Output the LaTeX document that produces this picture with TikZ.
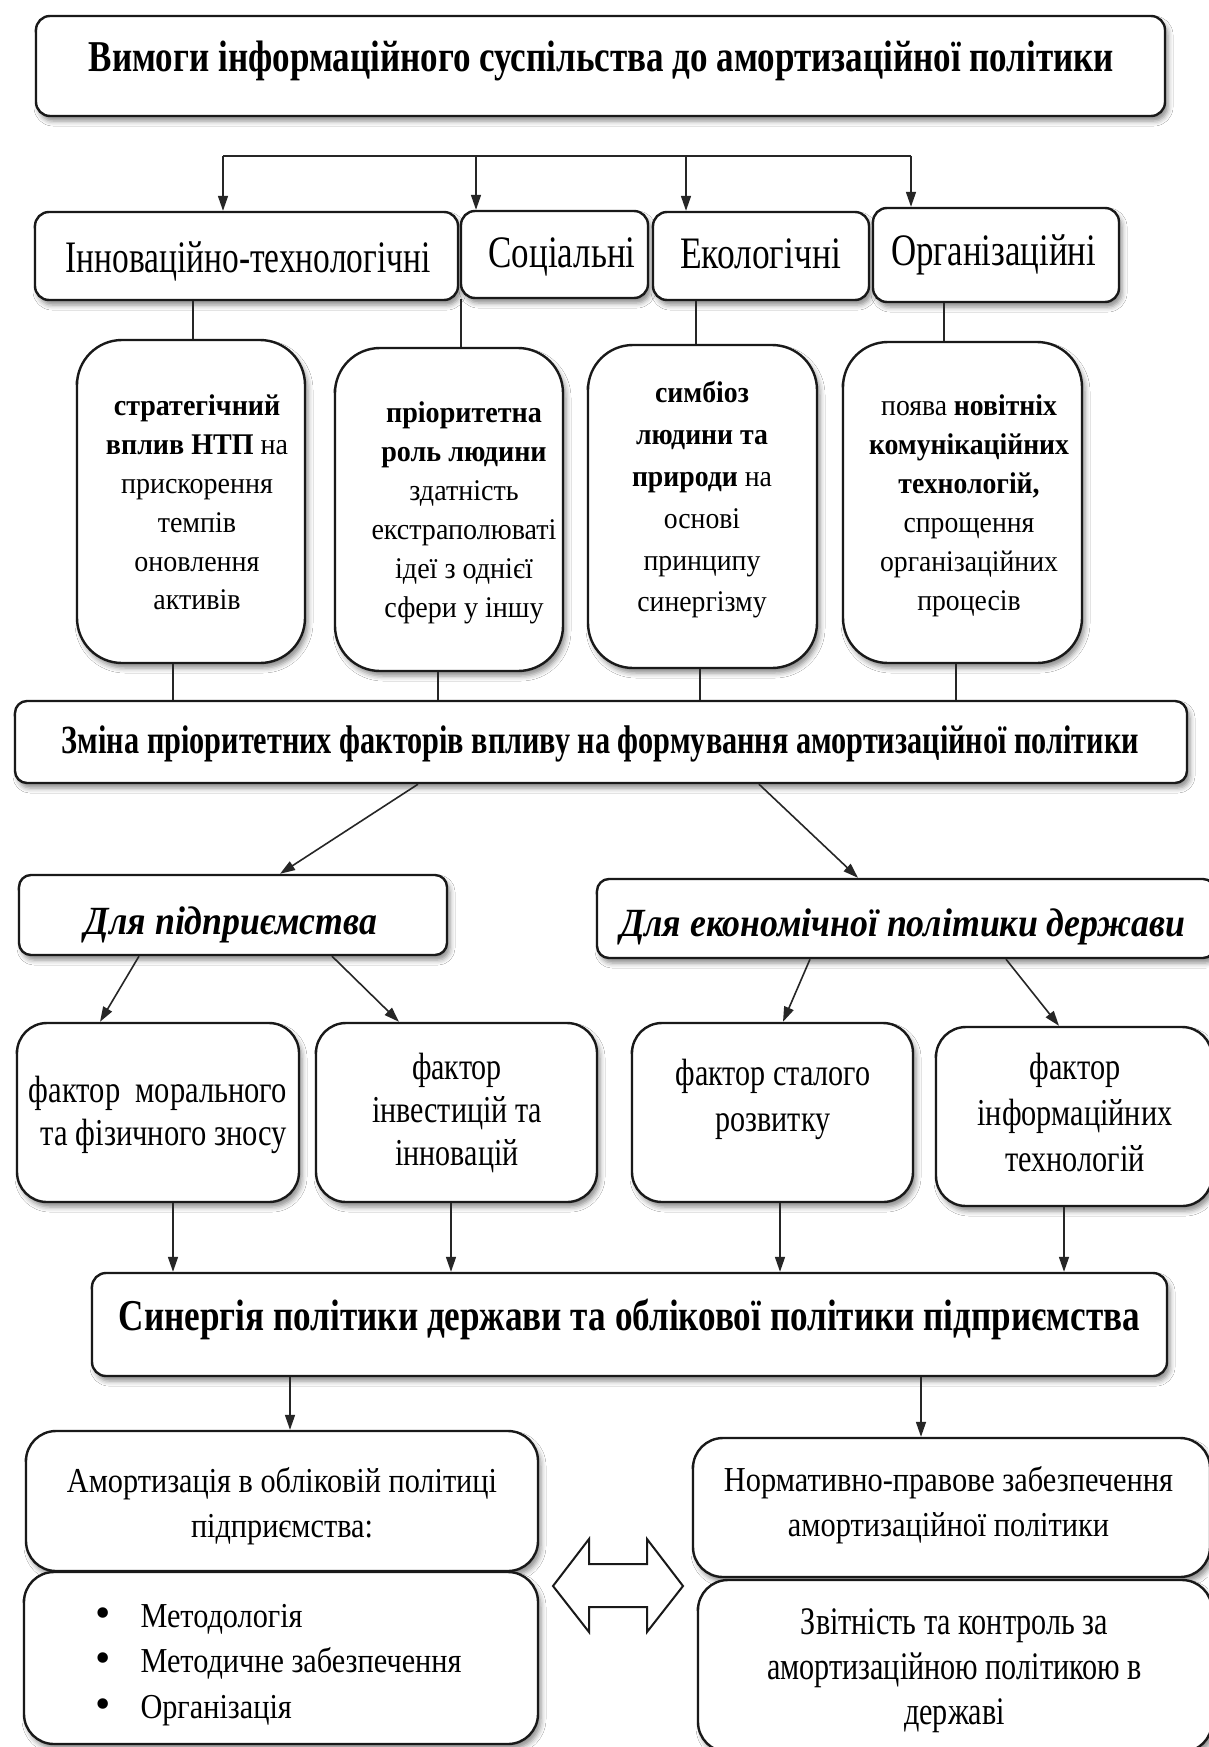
\documentclass[tikz,border=0pt]{standalone}
\usepackage{fontspec}
\setmainfont{Liberation Serif}
\usepackage{graphicx}
\usetikzlibrary{arrows.meta,shadows.blur,calc}

% text block: [column spec]{size}{baselineskip}{target width}{lines}
\newcommand\blk[5][c]{%
  {\fontsize{#2}{#3}\selectfont
   \resizebox{#4pt}{\height}{\begin{tabular}{@{}#1@{}}#5\end{tabular}}}}

\begin{document}
\begin{tikzpicture}[x=1pt,y=-1pt,
  box/.style={draw=black!90, line width=2.4pt, rounded corners=#1, fill=white,
    inner sep=0pt,
    blur shadow={shadow xshift=3pt, shadow yshift=-5pt,
                 shadow blur radius=5pt, shadow opacity=45}},
  box/.default=14pt,
  tx/.style={inner sep=0pt},
  ln/.style={draw=black!85, line width=1.6pt},
  arr/.style={ln, -{Triangle[length=15pt,width=10pt]}}]

\path[use as bounding box, fill=white] (0,0) rectangle (1208,1747);

% ---------- boxes ----------
\node[box, minimum width=1129pt, minimum height=100pt] (title) at (600.5,66) {};

\node[box, minimum width=423pt, minimum height=88pt] (cat1) at (246.5,256) {};
\node[box, minimum width=187pt, minimum height=87pt] (cat2) at (554.5,254.5) {};
\node[box, minimum width=216pt, minimum height=88pt] (cat3) at (761,256) {};
\node[box, minimum width=246pt, minimum height=94pt] (cat4) at (996,255) {};

\node[box=45pt, minimum width=228pt, minimum height=323pt] (tall1) at (191,501.5) {};
\node[box=45pt, minimum width=228pt, minimum height=323pt] (tall2) at (449,509.5) {};
\node[box=45pt, minimum width=229pt, minimum height=323pt] (tall3) at (702.5,506.5) {};
\node[box=45pt, minimum width=239pt, minimum height=321pt] (tall4) at (962.5,502.5) {};

\node[box=12pt, minimum width=1172pt, minimum height=82pt] (zmina) at (601,742) {};

\node[box=12pt, minimum width=428pt, minimum height=80pt] (dp) at (233,915) {};
\node[box=12pt, minimum width=618pt, minimum height=79pt] (de) at (906,918.5) {};

\node[box=30pt, minimum width=282pt, minimum height=179pt] (fA) at (158,1112.5) {};
\node[box=30pt, minimum width=281pt, minimum height=179pt] (fB) at (456.5,1112.5) {};
\node[box=30pt, minimum width=281pt, minimum height=179pt] (fC) at (772.5,1112.5) {};
\node[box=30pt, minimum width=276pt, minimum height=179pt] (fD) at (1074,1116.5) {};

\node[box, minimum width=1075pt, minimum height=103pt] (syn) at (629.5,1324.5) {};

\node[box=30pt, minimum width=512pt, minimum height=140pt] (am) at (282,1501) {};
\node[box=30pt, minimum width=514pt, minimum height=172pt] (bul) at (281,1658) {};
\node[box=30pt, minimum width=517pt, minimum height=139pt] (norm) at (951.5,1507.5) {};
\node[box=30pt, minimum width=514pt, minimum height=172pt] (zvit) at (955,1666) {};

% ---------- texts ----------
\node[tx] (title-t) at (601.5,62) {\bfseries\blk{44}{50}{1025}{Вимоги інформаційного суспільства до амортизаційної політики}};

\node[tx] (cat1-t) at (248,262) {\blk{45}{50}{365}{Інноваційно-технологічні}};
\node[tx] (cat2-t) at (562,257) {\blk{45}{50}{147}{Соціальні}};
\node[tx] (cat3-t) at (760.5,258) {\blk{45}{50}{161}{Екологічні}};
\node[tx] (cat4-t) at (993.5,255) {\blk{45}{50}{205}{Організаційні}};

\node[tx] (tall1-t) at (197,505.2) {\blk{30}{38.8}{182}{\textbf{стратегічний}\\ \textbf{вплив НТП} на\\ прискорення\\ темпів\\ оновлення\\ активів}};
\node[tx] (tall2-t) at (464,511.7) {\blk{30}{39}{185}{\textbf{пріоритетна}\\ \textbf{роль людини}\\ здатність\\ екстраполюваті\\ ідеї з однієї\\ сфери у іншу}};
\node[tx] (tall3-t) at (702,499.1) {\blk{30}{41.8}{140}{\textbf{симбіоз}\\ \textbf{людини та}\\ \textbf{природи} на\\ основі\\ принципу\\ синергізму}};
\node[tx] (tall4-t) at (969,504.7) {\blk{30}{39}{200}{поява \textbf{новітніх}\\ \textbf{комунікаційних}\\ \textbf{технологій,}\\ спрощення\\ організаційних\\ процесів}};

\node[tx] (zmina-t) at (600.5,743.8) {\bfseries\blk{40}{46}{1077}{Зміна пріоритетних факторів впливу на формування амортизаційної політики}};

\node[tx] (dp-t) at (231,924.8) {\bfseries\itshape\blk{40}{46}{292}{Для підприємства}};
\node[tx] (de-t) at (902.5,926.8) {\bfseries\itshape\blk{40}{46}{565}{Для економічної політики держави}};

\node[tx] (fA-t) at (158,1114.9) {\blk[r]{38}{43}{258}{фактор\ \ морального\\ та фізичного зносу}};
\node[tx] (fB-t) at (457,1113.4) {\blk{38}{43}{170}{фактор\\ інвестицій та\\ інновацій}};
\node[tx] (fC-t) at (773,1099.3) {\blk{38}{46}{195}{фактор сталого\\ розвитку}};
\node[tx] (fD-t) at (1075,1115.8) {\blk{38}{46}{195}{фактор\\ інформаційних\\ технологій}};

\node[tx] (syn-t) at (629.5,1320) {\bfseries\blk{44}{50}{1021}{Синергія політики держави та облікової політики підприємства}};

\node[tx] (am-t) at (282,1505.8) {\blk{35}{45}{430}{Амортизація в обліковій політиці\\ підприємства:}};
\node[tx, anchor=west] (bul-t) at (95,1663.6) {{\fontsize{35}{45.5}\selectfont
  \begin{tabular}{@{}c@{}}\scalebox{1.25}{\textbullet}\\ \scalebox{1.25}{\textbullet}\\ \scalebox{1.25}{\textbullet}\end{tabular}}%
  \hspace{30pt}%
  \blk[l]{35}{45.5}{321}{Методологія\\ Методичне забезпечення\\ Організація}};
\node[tx] (norm-t) at (948.5,1504.8) {\blk{35}{45}{449}{Нормативно-правове забезпечення\\ амортизаційної політики}};
\node[tx] (zvit-t) at (954.5,1670) {\blk{39}{45}{375}{Звітність та контроль за\\ амортизаційною політикою в\\ державі}};

% ---------- connectors ----------
\coordinate (h1) at (223,156);
\coordinate (h2) at (476,156);
\coordinate (h3) at (686,156);
\coordinate (h4) at (911,156);
\draw[ln] (h1) -- (h4);
\draw[arr] (h1) -- (h1 |- cat1.north);
\draw[arr] (h2) -- (h2 |- cat2.north);
\draw[arr] (h3) -- (h3 |- cat3.north);
\draw[arr] (h4) -- (h4 |- cat4.north);

\draw[ln, line width=1.1pt] (193,0 |- cat1.south) -- (193,0 |- tall1.north);
\draw[ln, line width=1.1pt] (461,0 |- cat2.south) -- (461,0 |- tall2.north);
\draw[ln, line width=1.1pt] (696,0 |- cat3.south) -- (696,0 |- tall3.north);
\draw[ln, line width=1.1pt] (944,0 |- cat4.south) -- (944,0 |- tall4.north);

\draw[ln, line width=1.1pt] (173,0 |- tall1.south) -- (173,0 |- zmina.north);
\draw[ln, line width=1.1pt] (438,0 |- tall2.south) -- (438,0 |- zmina.north);
\draw[ln, line width=1.1pt] (700,0 |- tall3.south) -- (700,0 |- zmina.north);
\draw[ln, line width=1.1pt] (956,0 |- tall4.south) -- (956,0 |- zmina.north);

\draw[arr] (418,0 |- zmina.south) -- (280,0 |- dp.north);
\draw[arr] (759,0 |- zmina.south) -- (858,0 |- de.north);

\draw[arr] (139,0 |- dp.south) -- (100,0 |- fA.north);
\draw[arr] (332,0 |- dp.south) -- (399,0 |- fB.north);
\draw[arr] (810,0 |- de.south) -- (783,0 |- fC.north);
\draw[arr] (1006,0 |- de.south) -- (1059,0 |- fD.north);

\draw[arr] (173,0 |- fA.south) -- (173,0 |- syn.north);
\draw[arr] (451,0 |- fB.south) -- (451,0 |- syn.north);
\draw[arr] (780,0 |- fC.south) -- (780,0 |- syn.north);
\draw[arr] (1064,0 |- fD.south) -- (1064,0 |- syn.north);

\draw[arr] (290,0 |- syn.south) -- (290,0 |- am.north);
\draw[arr] (921,0 |- syn.south) -- (921,0 |- norm.north);

% two-way hollow arrow between the lower blocks
\draw[line width=2pt, draw=black!90, fill=white, line join=miter]
  (553,1586) -- (589,1539) -- (589,1564) -- (647,1564) -- (647,1539)
  -- (683,1586) -- (647,1632) -- (647,1607) -- (589,1607) -- (589,1632) -- cycle;

\end{tikzpicture}
\end{document}
